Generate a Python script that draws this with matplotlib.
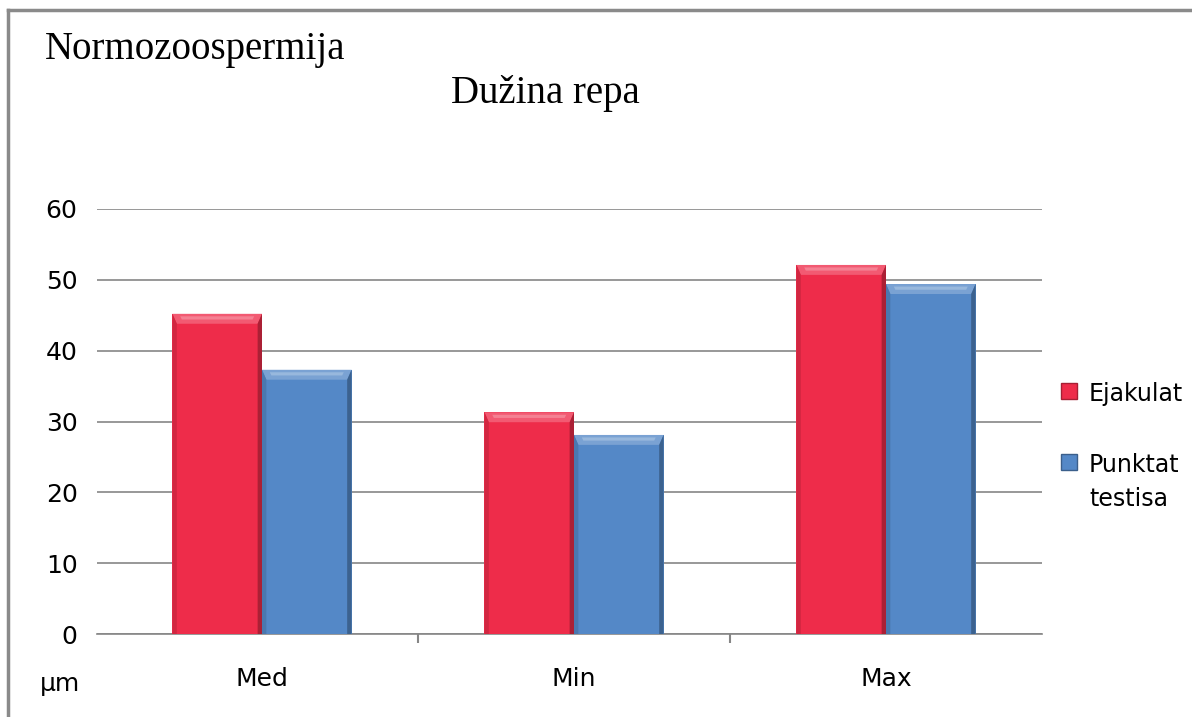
import matplotlib
matplotlib.use("Agg")
import matplotlib.pyplot as plt
from matplotlib.patches import Polygon
from matplotlib.lines import Line2D
import numpy as np

# data
kategorije = ["Med", "Min", "Max"]
ejakulat = [45.2, 31.3, 52.1]
punktat = [37.3, 28.1, 49.4]
serije = ["Ejakulat", "Punktat\ntestisa"]

crvena = "#EE2C4A"
plava = "#5488C7"

fig = plt.figure(figsize=(11.92, 7.17), dpi=100)
ax = fig.add_axes([97 / 1192, 1 - 634 / 717, 945 / 1192, 425 / 717])

x = np.arange(len(kategorije))
w = 0.287


def svijetlije(c, f):
    r, g, b = matplotlib.colors.to_rgb(c)
    return (r + (1 - r) * f, g + (1 - g) * f, b + (1 - b) * f)


def tamnije(c, f):
    r, g, b = matplotlib.colors.to_rgb(c)
    return (r * (1 - f), g * (1 - f), b * (1 - f))


def bevel(bar, boja):
    # rub i odsjaj na vrhu stupca (dx u jedinicama kategorije, dy u jedinicama y osi)
    x0 = bar.get_x()
    x1 = x0 + bar.get_width()
    h = bar.get_height()
    dx = 0.014
    dy = 1.4
    ax.add_patch(Polygon([(x0, h), (x1, h), (x1 - dx, h - dy), (x0 + dx, h - dy)],
                         closed=True, fc=svijetlije(boja, 0.22), ec="none", zorder=4))
    ax.add_patch(Polygon([(x0 + 0.025, h - 0.35), (x1 - 0.025, h - 0.35),
                          (x1 - 0.03, h - 0.8), (x0 + 0.03, h - 0.8)],
                         closed=True, fc=svijetlije(boja, 0.4), ec="none", zorder=5))
    ax.add_patch(Polygon([(x0, 0), (x0, h), (x0 + dx, h - dy), (x0 + dx, 0)],
                         closed=True, fc=tamnije(boja, 0.12), ec="none", zorder=4))
    ax.add_patch(Polygon([(x1, 0), (x1, h), (x1 - dx, h - dy), (x1 - dx, 0)],
                         closed=True, fc=tamnije(boja, 0.28), ec="none", zorder=4))


b1 = ax.bar(x - w / 2, ejakulat, w, color=crvena, zorder=3)
b2 = ax.bar(x + w / 2, punktat, w, color=plava, zorder=3)
for b in b1:
    bevel(b, crvena)
for b in b2:
    bevel(b, plava)

ax.set_xlim(-0.5 - 9 / 312, 2.5)
ax.set_ylim(0, 60)
ax.set_yticks(range(0, 61, 10))
ax.yaxis.grid(True, color="#868686", lw=1.2, zorder=0)
ax.set_axisbelow(True)
for s in ["top", "right", "left"]:
    ax.spines[s].set_visible(False)
ax.spines["bottom"].set_color("#868686")
ax.spines["bottom"].set_linewidth(1.2)

ax.set_xticks([0.5, 1.5])
ax.set_xticklabels([])
ax.set_xticks(x, minor=True)
ax.set_xticklabels(kategorije, minor=True)
ax.tick_params(axis="x", which="major", direction="out", length=6.5, width=1.5, color="#868686")
ax.tick_params(axis="x", which="minor", length=0, pad=24, labelsize=18)
ax.tick_params(axis="y", length=0, pad=14, labelsize=18)

fig.text(60 / 1192, 1 - 684 / 717, "µm", fontsize=18, ha="center", va="center")

fig.text(45 / 1192, 1 - 50 / 717, "Normozoospermija", family="Liberation Serif",
         fontsize=28, ha="left", va="center")
fig.text(545 / 1192, 1 - 93 / 717, "Dužina repa", family="Liberation Serif",
         fontsize=28, ha="center", va="center")

# legenda: oznaka poravnata s prvim retkom teksta
legenda_y = [391, 462]
for naziv, boja, yy in zip(serije, [crvena, plava], legenda_y):
    fig.add_artist(Line2D([1069 / 1192], [1 - yy / 717], transform=fig.transFigure,
                          marker="s", ls="none", markersize=11, mfc=boja,
                          mec=tamnije(boja, 0.3)))
    fig.text(1089 / 1192, 1 - (yy - 9) / 717, naziv, fontsize=17, ha="left",
             va="top", linespacing=1.55)

# okvir grafikona
fig.add_artist(Line2D([8 / 1192, 1], [1 - 10 / 717, 1 - 10 / 717],
                      transform=fig.transFigure, color="#8a8a8a", lw=2.5))
fig.add_artist(Line2D([8 / 1192, 8 / 1192], [0, 1 - 10 / 717],
                      transform=fig.transFigure, color="#8a8a8a", lw=2.5))

fig.savefig("out.png", dpi=100)
